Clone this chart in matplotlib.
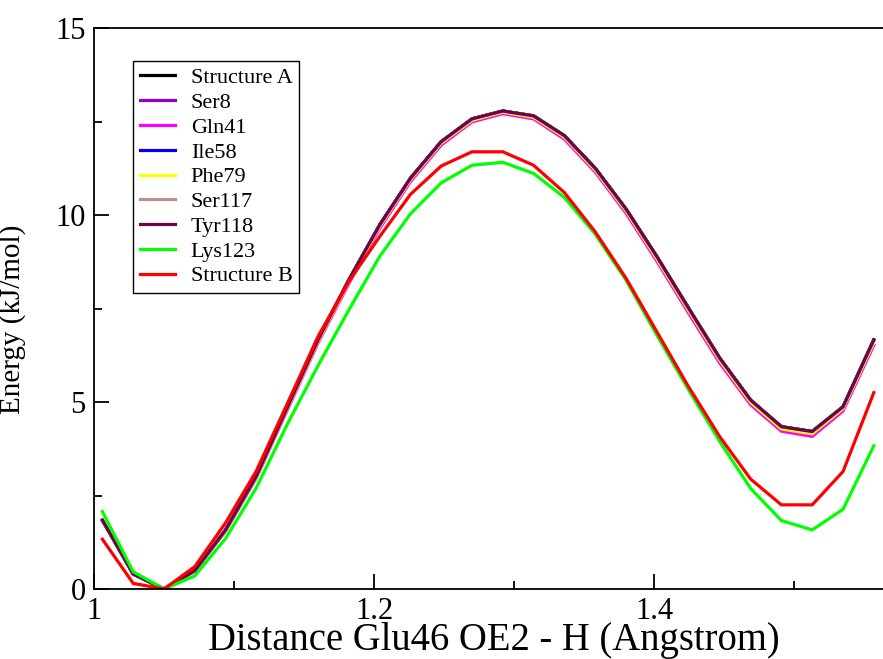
import matplotlib
matplotlib.use("Agg")
import matplotlib.pyplot as plt
from matplotlib.ticker import MultipleLocator

distance = [1.006, 1.028, 1.050, 1.072, 1.094, 1.116, 1.138, 1.160, 1.182, 1.204,
            1.226, 1.248, 1.270, 1.292, 1.314, 1.336, 1.358, 1.380, 1.402, 1.424,
            1.447, 1.469, 1.491, 1.513, 1.535, 1.557]

structure_a = [1.84, 0.40, 0.00, 0.49, 1.58, 3.02, 4.85, 6.66, 8.26, 9.73,
               10.98, 11.96, 12.57, 12.78, 12.65, 12.12, 11.25, 10.16, 8.89, 7.55,
               6.17, 5.05, 4.34, 4.21, 4.87, 6.66]
ser8 = [1.84, 0.40, 0.00, 0.49, 1.58, 3.02, 4.85, 6.66, 8.26, 9.73,
        10.98, 11.96, 12.57, 12.78, 12.65, 12.12, 11.25, 10.16, 8.89, 7.55,
        6.17, 5.05, 4.34, 4.21, 4.87, 6.66]
gln41 = [1.84, 0.40, 0.00, 0.47, 1.55, 2.97, 4.78, 6.58, 8.17, 9.64,
         10.89, 11.87, 12.49, 12.71, 12.57, 12.03, 11.15, 10.05, 8.77, 7.42,
         6.04, 4.93, 4.22, 4.08, 4.76, 6.52]
ile58 = [1.84, 0.40, 0.00, 0.49, 1.58, 3.02, 4.85, 6.66, 8.26, 9.73,
         10.98, 11.96, 12.57, 12.78, 12.65, 12.12, 11.25, 10.16, 8.89, 7.55,
         6.17, 5.05, 4.34, 4.21, 4.87, 6.66]
phe79 = [1.84, 0.40, 0.00, 0.48, 1.57, 3.00, 4.82, 6.62, 8.22, 9.69,
         10.94, 11.92, 12.53, 12.75, 12.61, 12.08, 11.20, 10.11, 8.83, 7.49,
         6.11, 4.99, 4.28, 4.15, 4.82, 6.59]
ser117 = [1.84, 0.40, 0.00, 0.49, 1.58, 3.02, 4.85, 6.66, 8.26, 9.73,
          10.98, 11.96, 12.57, 12.78, 12.65, 12.12, 11.25, 10.16, 8.89, 7.55,
          6.17, 5.05, 4.34, 4.21, 4.87, 6.66]
tyr118 = [1.84, 0.40, 0.00, 0.49, 1.58, 3.02, 4.85, 6.66, 8.26, 9.73,
          10.98, 11.96, 12.57, 12.78, 12.65, 12.12, 11.25, 10.16, 8.89, 7.55,
          6.17, 5.05, 4.34, 4.21, 4.87, 6.66]
lys123 = [2.07, 0.46, 0.00, 0.35, 1.35, 2.71, 4.40, 5.97, 7.46, 8.89,
          10.03, 10.86, 11.33, 11.41, 11.11, 10.47, 9.49, 8.26, 6.79, 5.37,
          3.94, 2.69, 1.83, 1.58, 2.13, 3.83]
structure_b = [1.33, 0.15, 0.00, 0.60, 1.77, 3.16, 4.95, 6.75, 8.22, 9.42,
               10.55, 11.31, 11.69, 11.69, 11.33, 10.60, 9.55, 8.31, 6.88, 5.45,
               4.07, 2.94, 2.25, 2.25, 3.14, 5.25]

labels = ["Structure A", "Ser8", "Gln41", "Ile58", "Phe79", "Ser117",
          "Tyr118", "Lys123", "Structure B"]
series = [structure_a, ser8, gln41, ile58, phe79, ser117, tyr118, lys123, structure_b]
colors = ["#000000", "#9400d3", "#ff00ff", "#0000ff", "#ffff00", "#bc8f8f",
          "#670748", "#00ff00", "#ff0000"]

plt.rcParams['font.family'] = ['Liberation Serif', 'DejaVu Serif']

fig = plt.figure(figsize=(8.83, 6.59), dpi=100)
ax = fig.add_axes([94 / 883, 1 - 589 / 659, 1 - 94 / 883, (589 - 28) / 659])

for ys, lab, col in zip(series, labels, colors):
    ax.plot(distance, ys, color=col, lw=2.3, label=lab, solid_joinstyle='miter')

ax.set_xlim(1.0, 1.0 + 789 / 1400)
ax.set_ylim(0, 15)
ax.xaxis.set_major_locator(MultipleLocator(0.2))
ax.xaxis.set_minor_locator(MultipleLocator(0.1))
ax.yaxis.set_major_locator(MultipleLocator(5))
ax.yaxis.set_minor_locator(MultipleLocator(2.5))
ax.set_xticks([1.0, 1.2, 1.4])
ax.set_xticklabels(["1", "1.2", "1.4"])
ax.tick_params(which='both', direction='in', top=False, right=False, width=1.3)
ax.tick_params(which='major', length=11, labelsize=22, pad=6)
ax.tick_params(which='minor', length=6)
ax.spines['right'].set_visible(False)
for s in ['left', 'bottom', 'top']:
    ax.spines[s].set_linewidth(1.3)

ax.set_xlabel("Distance Glu46 OE2 - H (Angstrom)", fontsize=27.8, va='bottom')
ax.xaxis.set_label_coords(0.507, -0.124)
ax.set_ylabel("Energy (kJ/mol)", fontsize=21)
ax.yaxis.set_label_coords(-0.086, 0.48)

leg = ax.legend(loc='upper left', bbox_to_anchor=((133 - 94) / 789, (589 - 61) / 561),
                borderaxespad=0, fancybox=False, edgecolor='black', framealpha=1,
                fontsize=16, handlelength=1.58, handletextpad=0.72,
                labelspacing=0.19, borderpad=0.3)
leg.get_frame().set_linewidth(1.0)

fig.savefig("out.png", dpi=100)
